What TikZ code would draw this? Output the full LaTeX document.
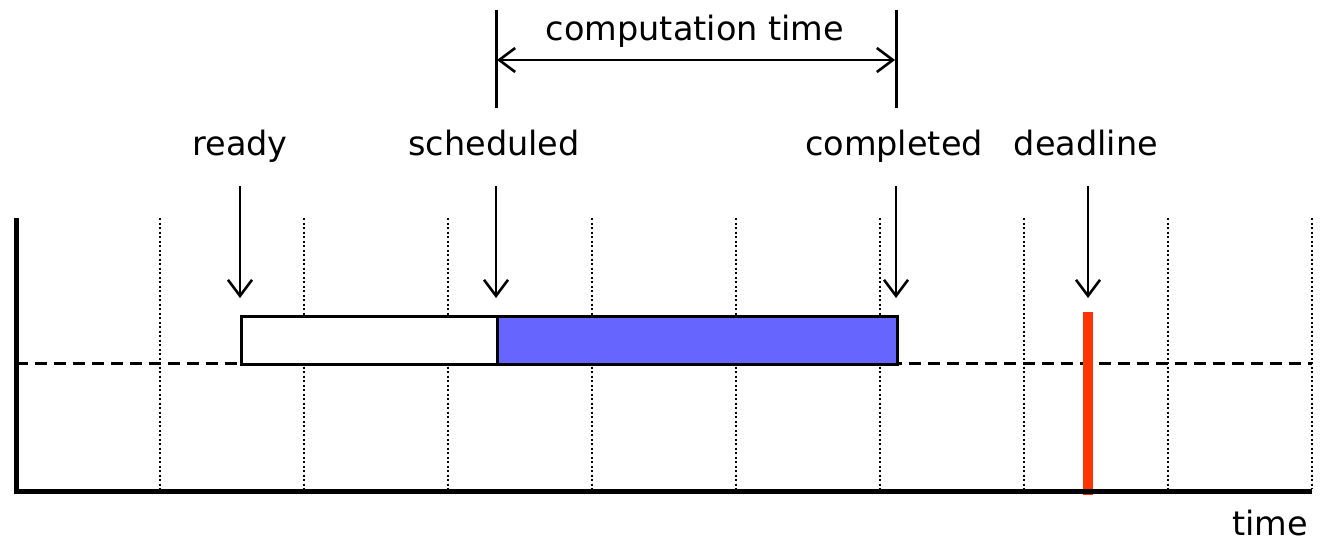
\documentclass[tikz,border=0pt]{standalone}
\usepackage{fontspec}
\setmainfont{DejaVu Sans}
\usetikzlibrary{arrows.meta}
\definecolor{runblue}{HTML}{6666FF}
\definecolor{deadred}{HTML}{FF3300}
\tikzset{
  lbl/.style={font=\fontsize{33.5}{40}\selectfont, inner sep=0pt, anchor=base},
  gridline/.style={line width=2pt, dash pattern=on 2pt off 2.5pt},
  evarrow/.style={line width=2.6pt, -{Straight Barb[length=16pt,width=24pt,line width=2.6pt]}},
  dimarrow/.style={line width=2.6pt, {Straight Barb[length=16pt,width=24pt,line width=2.6pt]}-{Straight Barb[length=16pt,width=24pt,line width=2.6pt]}},
  axis/.style={line width=5pt},
  bar/.style={line width=3pt}
}
\begin{document}
\begin{tikzpicture}[x=1pt,y=-1pt]
\useasboundingbox (0,0) rectangle (1323,541);
% grid
\foreach \gx in {160,304,448,592,736,880,1024,1168,1312}
  \draw[gridline] (\gx,218) -- (\gx,489);
% dashed baseline
\draw[line width=3pt, dash pattern=on 12pt off 7pt] (16,363) -- (1312,363);
% boxes
\node[draw, line width=3pt, fill=white, minimum width=256pt, minimum height=48pt, inner sep=0pt, anchor=north west] (wait) at (240,315) {};
\node[draw, line width=3pt, fill=runblue, minimum width=400pt, minimum height=48pt, inner sep=0pt, anchor=north west] (run) at (496,315) {};
% deadline bar
\draw[line width=10pt, deadred] (1088,312) -- (1088,495);
% axes
\coordinate (origin) at (16,491);
\coordinate (ytop) at (16,218);
\coordinate (xend) at (1312,491);
\draw[axis] (ytop) -- (16,493) ;
\draw[axis] (14,491) -- (xend);
% labels
\node[lbl] (ready) at (240,155) {ready};
\node[lbl] (sched) at (494,155) {scheduled};
\node[lbl] (compl) at (894,155) {completed};
\node[lbl] (dead) at (1086,155) {deadline};
\node[lbl] (time) at (1270,535) {time};
\node[lbl] (comp) at (695,40) {computation time};
% event arrows
\coordinate (ra) at (240,298);
\coordinate (sa) at (496,298);
\coordinate (ca) at (896,298);
\coordinate (da) at (1088,298);
\draw[evarrow] (240,186) -- (ra);
\draw[evarrow] (496,186) -- (sa);
\draw[evarrow] (896,186) -- (ca);
\draw[evarrow] (1088,186) -- (da);
% computation time dimension
\coordinate (s1) at (496,10);
\coordinate (s2) at (496,108);
\coordinate (c1) at (896,10);
\coordinate (c2) at (896,108);
\draw[bar] (s1) -- (s2);
\draw[bar] (c1) -- (c2);
\draw[dimarrow] (497,60) -- (895,60);
\end{tikzpicture}
\end{document}
